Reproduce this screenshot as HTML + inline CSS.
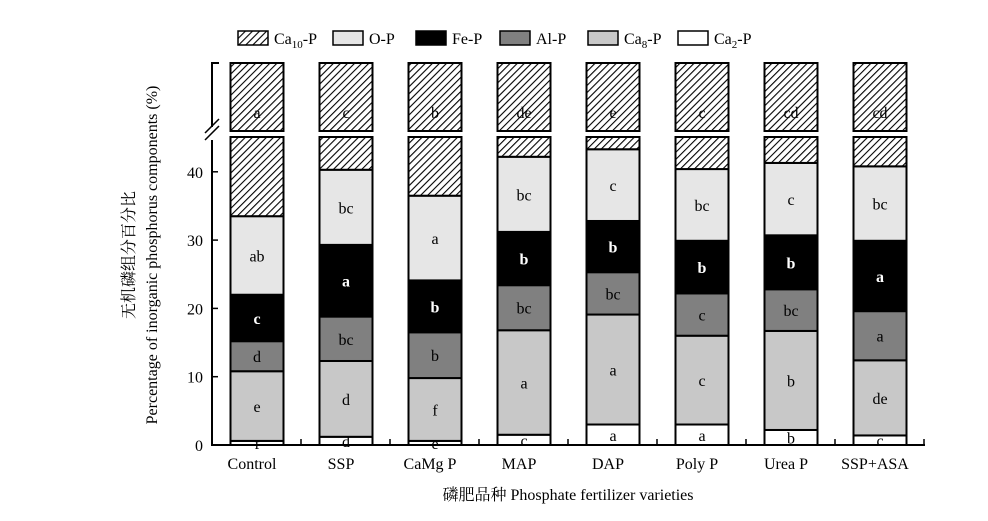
<!DOCTYPE html>
<html><head><meta charset="utf-8"><style>
body{margin:0;background:#fff}
svg text{font-family:"Liberation Serif","Noto Serif CJK SC",serif;}
</style></head><body>
<svg id="c" width="988" height="516" xmlns="http://www.w3.org/2000/svg">
<defs><pattern id="hatch" patternUnits="userSpaceOnUse" width="5" height="5" patternTransform="rotate(45)"><rect width="5" height="5" fill="#fff"/><line x1="0" y1="0" x2="0" y2="5" stroke="#000" stroke-width="2.2"/></pattern></defs>
<g id="g"></g>
</svg>
<script>
const categories=["Control","SSP","CaMg P","MAP","DAP","Poly P","Urea P","SSP+ASA"];
const ca2=[0.6,1.2,0.6,1.5,3.0,3.0,2.2,1.4];
const ca8=[10.2,11.1,9.2,15.3,16.1,13.0,14.5,11.0];
const alp=[4.4,6.5,6.7,6.6,6.2,6.2,6.1,7.2];
const fep=[6.8,10.5,7.6,7.8,7.5,7.7,7.9,10.3];
const op=[11.5,11.0,12.4,11.0,10.5,10.5,10.6,10.9];
const ca2L=["f","d","e","c","a","a","b","c"];
const ca8L=["e","d","f","a","a","c","b","de"];
const alL=["d","bc","b","bc","bc","c","bc","a"];
const feL=["c","a","b","b","b","b","b","a"];
const opL=["ab","bc","a","bc","c","bc","c","bc"];
const ca10L=["a","c","b","de","e","c","cd","cd"];
const yTicks=[0,10,20,30,40];
const series=[ca2,ca8,alp,fep,op];
const seriesLabels=[ca2L,ca8L,alL,feL,opL];
const seriesNames=["ca2-p","ca8-p","al-p","fe-p","o-p"];
const fills=["#fff","#c8c8c8","#808080","#000","#e6e6e6"];
const tcol=["#000","#000","#000","#fff","#000"];
const NS="http://www.w3.org/2000/svg";
const g=document.getElementById("g");
const y0=445,k=6.83,yTop=63,yBrk=131,yLow=137;
const y=v=>y0-v*k;
const xc=i=>257+i*89, bw=53;
function el(t,a,txt){const e=document.createElementNS(NS,t);for(const n in a)e.setAttribute(n,a[n]);if(txt!==undefined)e.textContent=txt;g.appendChild(e);return e;}
// axes
let e=el("path",{d:`M219 ${yTop}H212V${yBrk-4}M212 ${yLow+3}V${y0}H925`,fill:"none",stroke:"#000","stroke-width":2});

e=el("path",{d:`M205 ${yBrk+2}L219 ${yBrk-12}M205 ${yBrk+9}L219 ${yBrk-5}`,stroke:"#000","stroke-width":1.5});

e=el("text",{x:203,y:y(100)+6,"font-size":16,"text-anchor":"end"},"100");

yTicks.forEach(t=>{e=el("text",{x:203,y:y(t)+6,"font-size":16,"text-anchor":"end"},String(t));

e=el("line",{x1:212,x2:218,y1:y(t),y2:y(t),stroke:"#000","stroke-width":1.5});
});
categories.forEach((c,i)=>{
 if(i<categories.length){e=el("line",{x1:xc(i)+44,x2:xc(i)+44,y1:y0,y2:y0-6,stroke:"#000","stroke-width":1.5});
 }
 e=el("text",{x:xc(i)-5,y:469,"font-size":16,"text-anchor":"middle"},c);
 
 let cum=0;
 series.forEach((s,j)=>{const v=s[i];
  e=el("rect",{x:xc(i)-bw/2,y:y(cum+v),width:bw,height:v*k,fill:fills[j],stroke:"#000","stroke-width":2});
  
  e=el("text",{x:xc(i),y:y(cum+v/2)+6,"font-size":16,"text-anchor":"middle",fill:tcol[j],"font-weight":j==3?"bold":"normal"},seriesLabels[j][i]);
  
  cum+=v;});
 e=el("rect",{x:xc(i)-bw/2,y:yLow,width:bw,height:y(cum)-yLow,fill:"url(#hatch)",stroke:"#000","stroke-width":2});
 
 e=el("rect",{x:xc(i)-bw/2,y:yTop,width:bw,height:yBrk-yTop,fill:"url(#hatch)",stroke:"#000","stroke-width":2});
 
 e=el("text",{x:xc(i),y:118,"font-size":16,"text-anchor":"middle"},ca10L[i]);
 
 e=el("rect",{x:xc(i)-bw/2-1,y:yBrk+1,width:bw+2,height:yLow-yBrk-2,fill:"#fff"});
});
// legend
const legNames=["Ca10-P","O-P","Fe-P","Al-P","Ca8-P","Ca2-P"];
const legX=[238,333,416,500,588,678];
const legFill=["url(#hatch)","#e6e6e6","#000","#808080","#c8c8c8","#fff"];
legNames.forEach((n,i)=>{
 e=el("rect",{x:legX[i],y:31,width:30,height:14,fill:legFill[i],stroke:"#000","stroke-width":1.5});
 
 const t=el("text",{x:legX[i]+36,y:44,"font-size":16});
 
 const m=n.match(/^Ca(\d+)-P$/);
 if(m){t.appendChild(document.createTextNode("Ca"));const s=document.createElementNS(NS,"tspan");s.setAttribute("font-size","11");s.setAttribute("dy","4");s.textContent=m[1];t.appendChild(s);const s2=document.createElementNS(NS,"tspan");s2.setAttribute("dy","-4");s2.textContent="-P";t.appendChild(s2);}
 else t.textContent=n;
});
e=el("text",{x:0,y:0,"font-size":16,"text-anchor":"middle",transform:"translate(134,255) rotate(-90)"},"无机磷组分百分比");

e=el("text",{x:0,y:0,"font-size":16,"text-anchor":"middle",transform:"translate(157,255) rotate(-90)"},"Percentage of inorganic phosphorus components (%)");

e=el("text",{x:568,y:500,"font-size":16,"text-anchor":"middle"},"磷肥品种 Phosphate fertilizer varieties");

</script>
</body></html>
